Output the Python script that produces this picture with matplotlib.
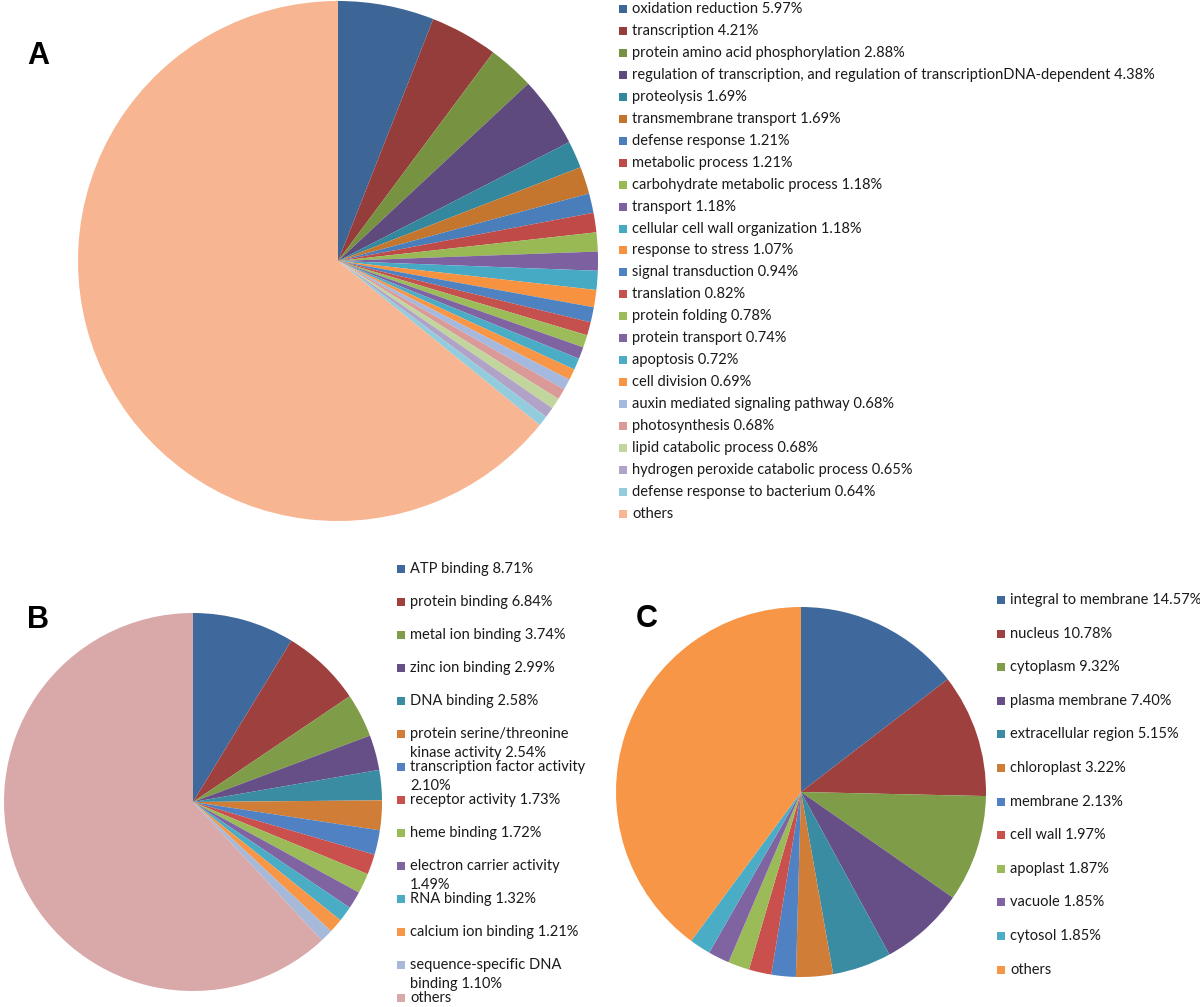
import matplotlib.pyplot as plt
import matplotlib.patches as patches

W, H = 1200, 1007

# ---- panel A: biological process ----
a_labels = ["oxidation reduction 5.97%", "transcription 4.21%",
            "protein amino acid phosphorylation 2.88%",
            "regulation of transcription, and regulation of transcriptionDNA-dependent 4.38%",
            "proteolysis 1.69%", "transmembrane transport 1.69%", "defense response 1.21%",
            "metabolic process 1.21%", "carbohydrate metabolic process 1.18%", "transport 1.18%",
            "cellular cell wall organization 1.18%", "response to stress 1.07%",
            "signal transduction 0.94%", "translation 0.82%", "protein folding 0.78%",
            "protein transport 0.74%", "apoptosis 0.72%", "cell division 0.69%",
            "auxin mediated signaling pathway 0.68%", "photosynthesis 0.68%",
            "lipid catabolic process 0.68%", "hydrogen peroxide catabolic process 0.65%",
            "defense response to bacterium 0.64%", "others"]
a_values = [5.97, 4.21, 2.88, 4.38, 1.69, 1.69, 1.21, 1.21, 1.18, 1.18, 1.18, 1.07,
            0.94, 0.82, 0.78, 0.74, 0.72, 0.69, 0.68, 0.68, 0.68, 0.65, 0.64, 64.13]
a_colors = ["#3d6596", "#953d3b", "#779341", "#5f4a7d", "#33889d", "#c4762f",
            "#4a7ebb", "#be4b48", "#98b954", "#7d60a0", "#46aac5", "#f69240",
            "#4f82c0", "#c4514e", "#9cbc5a", "#8064a2", "#4bacc6", "#f79646",
            "#a5b8dd", "#d99a98", "#c2d59d", "#b0a3c7", "#93cddd", "#f7b591"]

# ---- panel B: molecular function ----
b_labels = ["ATP binding 8.71%", "protein binding 6.84%", "metal ion binding 3.74%",
            "zinc ion binding 2.99%", "DNA binding 2.58%",
            "protein serine/threonine\nkinase activity 2.54%",
            "transcription factor activity\n2.10%", "receptor activity 1.73%",
            "heme binding 1.72%", "electron carrier activity\n1.49%", "RNA binding 1.32%",
            "calcium ion binding 1.21%", "sequence-specific DNA\nbinding 1.10%", "others"]
b_values = [8.71, 6.84, 3.74, 2.99, 2.58, 2.54, 2.10, 1.73, 1.72, 1.49, 1.32, 1.21, 1.10, 61.93]
b_colors = ["#3f699d", "#9e413e", "#7f9c48", "#664f86", "#3a8ca2", "#d07d38",
            "#4f81c3", "#c9504d", "#9bbb59", "#8064a2", "#4bacc6", "#f79646",
            "#a7b9d9", "#d9a9aa"]

# ---- panel C: cellular component ----
c_labels = ["integral to membrane 14.57%", "nucleus 10.78%", "cytoplasm 9.32%",
            "plasma membrane 7.40%", "extracellular region 5.15%", "chloroplast 3.22%",
            "membrane 2.13%", "cell wall 1.97%", "apoplast 1.87%", "vacuole 1.85%",
            "cytosol 1.85%", "others"]
c_values = [14.57, 10.78, 9.32, 7.40, 5.15, 3.22, 2.13, 1.97, 1.87, 1.85, 1.85, 39.89]
c_colors = ["#3f699d", "#9e413e", "#7f9c48", "#664f86", "#3a8ca2", "#d07d38",
            "#4f81c3", "#c9504d", "#9bbb59", "#8064a2", "#4bacc6", "#f79646"]

plt.rcParams['font.family'] = ['Lato', 'DejaVu Sans']

fig = plt.figure(figsize=(W / 100, H / 100), dpi=100)


def pie_axes(cx, cy, r):
    # pixel centre/radius -> figure fraction box
    return fig.add_axes([(cx - r) / W, 1 - (cy + r) / H, 2 * r / W, 2 * r / H])


def draw_pie(ax, values, colors):
    ax.pie(values, colors=colors, startangle=90, counterclock=False,
           wedgeprops=dict(linewidth=0))
    ax.set_xlim(-1, 1)
    ax.set_ylim(-1, 1)


def draw_legend(labels, colors, x, y0, step, fs, line_gap=19):
    for i, (lab, col) in enumerate(zip(labels, colors)):
        y = y0 + i * step
        fig.add_artist(patches.Rectangle((x / W, 1 - (y + 4) / H), 8 / W, 8 / H,
                                         transform=fig.transFigure, color=col, lw=0))
        for k, line in enumerate(lab.split("\n")):
            fig.text((x + 13) / W, 1 - (y + k * line_gap) / H, line, fontsize=fs,
                     va='center', ha='left', color='#1a1a1a')


axA = pie_axes(338, 261, 260)
draw_pie(axA, a_values, a_colors)
draw_legend(a_labels, a_colors, 619, 9, 21.95, 10.5)

axB = pie_axes(193, 802, 189)
draw_pie(axB, b_values, b_colors)
draw_legend(b_labels, b_colors, 397, 569, 33.0, 10.5)

axC = pie_axes(801, 792, 185)
draw_pie(axC, c_values, c_colors)
draw_legend(c_labels, c_colors, 997, 600, 33.6, 10.5)

for letter, (lx, ly) in {"A": (38, 56), "B": (38, 620), "C": (647, 619)}.items():
    fig.text(lx / W, 1 - ly / H, letter, fontsize=22, fontweight='bold',
             family='Liberation Sans', ha='center', va='center')

fig.savefig("out.png", dpi=100)
